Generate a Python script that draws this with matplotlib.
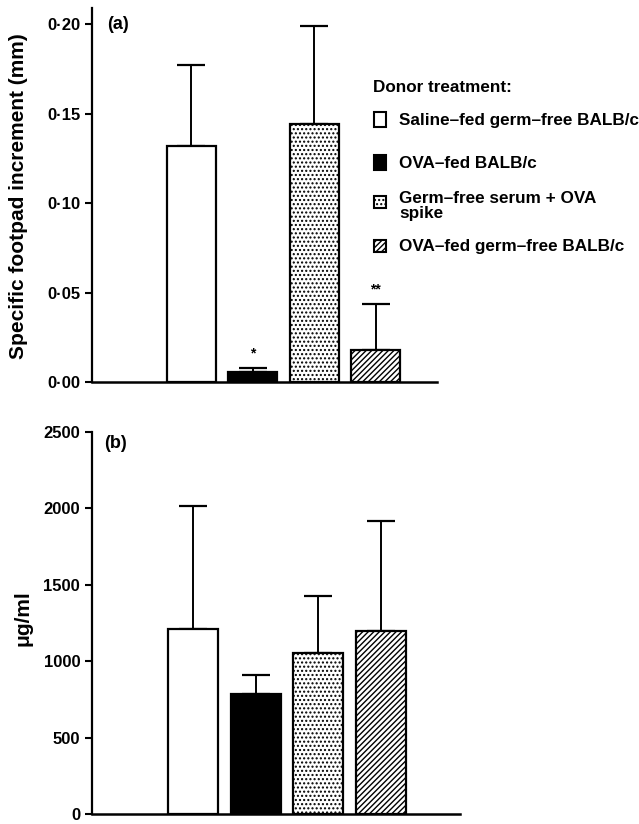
import numpy as np
import matplotlib
matplotlib.use("Agg")
import matplotlib.pyplot as plt
from matplotlib.patches import Rectangle
from matplotlib.ticker import FuncFormatter

plt.rcParams['font.family'] = ['Liberation Sans', 'DejaVu Sans']
plt.rcParams['font.weight'] = 'bold'
plt.rcParams['hatch.linewidth'] = 1.0

groups = ["Saline\u2013fed germ\u2013free BALB/c", "OVA\u2013fed BALB/c",
          "Germ\u2013free serum + OVA\nspike", "OVA\u2013fed germ\u2013free BALB/c"]
fills = ["white", "black", "white", "white"]
hatches = [None, None, "....", "//////"]

# (a) footpad increment
footpad = [0.132, 0.0056, 0.144, 0.018]
footpad_err = [0.045, 0.0022, 0.055, 0.0256]
stars = ["", "*", "", "**"]

# (b) antibody
ugml = [1211, 788, 1055, 1198]
ugml_err = [807, 123, 371, 722]

W, H = 639, 824
fig = plt.figure(figsize=(W / 100, H / 100), dpi=100)

def px_axes(l, t, r, b):
    return fig.add_axes([l / W, 1 - b / H, (r - l) / W, (b - t) / H])

def style(ax):
    for s in ["top", "right"]:
        ax.spines[s].set_visible(False)
    ax.spines["left"].set_linewidth(1.6)
    ax.spines["bottom"].set_linewidth(1.8)
    ax.set_xticks([])
    ax.tick_params(axis="y", direction="out", length=5, width=1.5, labelsize=12)
    for lab in ax.get_yticklabels():
        lab.set_fontweight("bold")

x = np.arange(4)

# panel a
ax1 = px_axes(92, 8, 437, 382)
ax1.bar(x, footpad, width=0.8, color=fills, edgecolor="black", linewidth=1.6, zorder=2)
for i, h in enumerate(hatches):
    if h:
        ax1.patches[i].set_hatch(h)
ax1.errorbar(x, footpad, yerr=[np.zeros(4), footpad_err], fmt="none",
             ecolor="black", elinewidth=1.4, capsize=10, capthick=1.6, zorder=1)
for i, s in enumerate(stars):
    if s:
        ax1.text(x[i], footpad[i] + footpad_err[i] + 0.008, s, ha="center",
                 va="center", fontsize=10, fontweight="bold")
ax1.set_xlim(-1.62, 4.0)
ax1.set_ylim(0, 0.209)
ax1.set_yticks([0, 0.05, 0.10, 0.15, 0.20])
ax1.yaxis.set_major_formatter(FuncFormatter(lambda v, p: f"{v:.2f}".replace(".", "\u00b7")))
ax1.set_ylabel("Specific footpad increment (mm)", fontsize=15, fontweight="bold")
ax1.yaxis.set_label_coords(-0.185, 0.497)
ax1.text(0.043, 0.957, "(a)", transform=ax1.transAxes, fontsize=13, fontweight="bold",
         ha="left", va="center")
style(ax1)

# legend, drawn by hand in pixel positions
def fy(py):
    return 1 - py / H

fig.text(373 / W, fy(88), "Donor treatment:", fontsize=12.3, fontweight="bold",
         ha="left", va="center")
box_y = [(112, 127), (155, 170), (196, 208), (240, 252)]
text_y = [120, 163, 206, 247]
for i in range(4):
    t, b = box_y[i]
    fig.patches.append(Rectangle((374 / W, fy(b)), 12 / W, (b - t) / H,
                                 transform=fig.transFigure, facecolor=fills[i],
                                 edgecolor="black", hatch=hatches[i], linewidth=1.5))
    fig.text(399 / W, fy(text_y[i]), groups[i], fontsize=12.3, fontweight="bold",
             ha="left", va="center", linespacing=0.95)

# panel b
ax2 = px_axes(92, 432, 460, 814)
ax2.bar(x, ugml, width=0.8, color=fills, edgecolor="black", linewidth=1.6, zorder=2)
for i, h in enumerate(hatches):
    if h:
        ax2.patches[i].set_hatch(h)
ax2.errorbar(x, ugml, yerr=[np.zeros(4), ugml_err], fmt="none",
             ecolor="black", elinewidth=1.4, capsize=10, capthick=1.6, zorder=1)
ax2.set_xlim(-1.62, 4.27)
ax2.set_ylim(0, 2500)
ax2.set_yticks([0, 500, 1000, 1500, 2000, 2500])
ax2.set_ylabel("\u03bcg/ml", fontsize=15, fontweight="bold")
ax2.yaxis.set_label_coords(-0.163, 0.513)
ax2.text(0.033, 0.969, "(b)", transform=ax2.transAxes, fontsize=13, fontweight="bold",
         ha="left", va="center")
style(ax2)

fig.savefig("out.png", dpi=100)
